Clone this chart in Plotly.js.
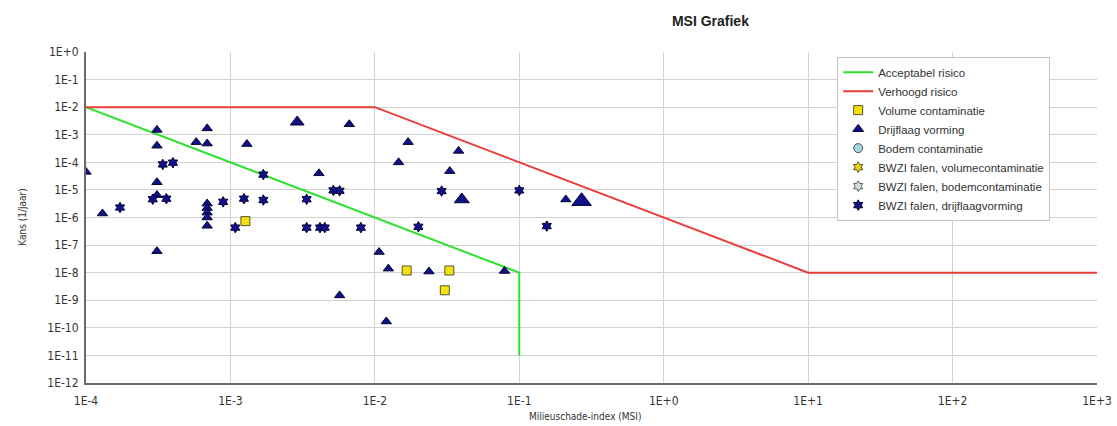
<!DOCTYPE html>
<html>
<head>
<meta charset="utf-8">
<script src="https://cdn.plot.ly/plotly-3.0.1.min.js"></script>
<style>
  html, body { margin: 0; padding: 0; background: #ffffff; }
  #chart { width: 1117px; height: 426px; }
</style>
</head>
<body>
<div id="chart"></div>
<script>
// ---------- DATA ----------
var xTickVals = [1e-4, 1e-3, 1e-2, 1e-1, 1e0, 1e1, 1e2, 1e3];
var xTickText = ["1E-4", "1E-3", "1E-2", "1E-1", "1E+0", "1E+1", "1E+2", "1E+3"];
var yTickVals = [1e-12, 1e-11, 1e-10, 1e-9, 1e-8, 1e-7, 1e-6, 1e-5, 1e-4, 1e-3, 1e-2, 1e-1, 1e0];
var yTickText = ["1E-12", "1E-11", "1E-10", "1E-9", "1E-8", "1E-7", "1E-6", "1E-5", "1E-4", "1E-3", "1E-2", "1E-1", "1E+0"];

// Acceptabel risico (green boundary)
var acceptX = [1e-4, 1e-1, 1e-1];
var acceptY = [1e-2, 1e-8, 1e-11];

// Verhoogd risico (red boundary)
var verhoogdX = [1e-4, 1e-2, 1e1, 1e3];
var verhoogdY = [1e-2, 1e-2, 1e-8, 1e-8];

// Volume contaminatie (yellow squares)
var volumeX = [1.27e-3, 1.66e-2, 3.28e-2, 3.05e-2];
var volumeY = [7.4e-7, 1.2e-8, 1.2e-8, 2.3e-9];

// Drijflaag vorming (triangles)
var drijfX = [1.0e-4, 1.3e-4, 3.1e-4, 3.1e-4, 3.1e-4, 3.1e-4, 3.1e-4, 5.8e-4,
              6.9e-4, 6.9e-4, 6.9e-4, 6.9e-4, 6.9e-4, 6.9e-4, 6.9e-4, 1.3e-3,
              2.9e-3, 4.1e-3, 5.7e-3, 6.65e-3, 1.07e-2, 1.24e-2, 1.2e-2, 1.46e-2,
              1.7e-2, 2.37e-2, 3.3e-2, 3.8e-2, 4.0e-2, 7.9e-2, 0.21, 0.27];
var drijfY = [4.5e-5, 1.4e-6, 1.5e-3, 4.0e-4, 1.9e-5, 6.5e-6, 6.0e-8, 5.4e-4,
              1.7e-3, 4.8e-4, 3.2e-6, 2.2e-6, 1.5e-6, 1.0e-6, 5.0e-7, 4.6e-4,
              2.9e-3, 4.0e-5, 1.5e-9, 2.4e-3, 5.6e-8, 1.4e-8, 1.7e-10, 1.0e-4,
              5.4e-4, 1.1e-8, 4.8e-5, 2.6e-4, 4.5e-6, 1.15e-8, 4.5e-6, 3.9e-6];

// Bodem contaminatie, BWZI volume / bodem (no points in this chart)
var bodemX = [null], bodemY = [null];
var bwziVolumeX = [null], bwziVolumeY = [null];
var bwziBodemX = [null], bwziBodemY = [null];

// BWZI falen, drijflaagvorming (stars)
var bwziDrijfX = [1.72e-4, 2.9e-4, 3.6e-4, 3.4e-4, 4.0e-4, 8.9e-4, 1.08e-3, 1.24e-3,
                  1.69e-3, 1.69e-3, 3.37e-3, 3.37e-3, 4.17e-3, 4.5e-3, 5.16e-3, 5.7e-3,
                  8.0e-3, 2.0e-2, 2.9e-2, 0.1, 0.155];
var bwziDrijfY = [2.3e-6, 4.6e-6, 4.8e-6, 8.4e-5, 9.7e-5, 3.7e-6, 4.3e-7, 4.8e-6,
                  3.6e-5, 4.3e-6, 4.6e-6, 4.3e-7, 4.3e-7, 4.3e-7, 9.6e-6, 9.3e-6,
                  4.3e-7, 4.6e-7, 9.1e-6, 9.6e-6, 4.9e-7];

// ---------- STYLE ----------
var navy = "#10108a";
var navyEdge = "#05052e";
// marker sizes for triangles: a few points are drawn larger in the original
var drijfSizes = drijfX.map(function (v, i) {
  if (i === 16) return 12;
  if (i === 28) return 13;
  if (i === 31) return 17;
  return 9;
});

var traces = [
  { x: acceptX, y: acceptY, name: "Acceptabel risico", mode: "lines",
    line: { color: "#2fe02f", width: 2 } },
  { x: verhoogdX, y: verhoogdY, name: "Verhoogd risico", mode: "lines",
    line: { color: "#ea3c38", width: 2 } },
  { x: volumeX, y: volumeY, name: "Volume contaminatie", mode: "markers",
    marker: { symbol: "square", size: 9, opacity: 1, color: "#f4e20c", line: { color: "#555533", width: 1 } } },
  { x: drijfX, y: drijfY, name: "Drijflaag vorming", mode: "markers",
    marker: { symbol: "triangle-up", size: drijfSizes, opacity: 1, sizemode: "diameter", color: navy, line: { color: navyEdge, width: 1 } } },
  { x: bodemX, y: bodemY, name: "Bodem contaminatie", mode: "markers",
    marker: { symbol: "circle", size: 9, opacity: 1, color: "#a9d4de", line: { color: "#445555", width: 1 } } },
  { x: bwziVolumeX, y: bwziVolumeY, name: "BWZI falen, volumecontaminatie", mode: "markers",
    marker: { symbol: "hexagram", size: 8, opacity: 1, color: "#e8d414", line: { color: "#5a5520", width: 1 } } },
  { x: bwziBodemX, y: bwziBodemY, name: "BWZI falen, bodemcontaminatie", mode: "markers",
    marker: { symbol: "hexagram", size: 8, opacity: 1, color: "#cfe0d6", line: { color: "#556060", width: 1 } } },
  { x: bwziDrijfX, y: bwziDrijfY, name: "BWZI falen, drijflaagvorming", mode: "markers",
    marker: { symbol: "hexagram", size: 8, opacity: 1, color: navy, line: { color: navyEdge, width: 1 } } }
];

var tickFont = { family: "Liberation Sans Narrow, DejaVu Sans Condensed, Arial Narrow, sans-serif", size: 12, color: "#333333" };

var layout = {
  width: 1117, height: 426,
  margin: { l: 86, r: 20, t: 52, b: 43 },
  paper_bgcolor: "#ffffff",
  plot_bgcolor: "#ffffff",
  title: {
    text: "<b>MSI Grafiek</b>",
    font: { family: "Liberation Sans, Arial, sans-serif", size: 14, color: "#222222" },
    x: 0.636, xref: "container", xanchor: "center",
    y: 0.951, yref: "container", yanchor: "middle"
  },
  xaxis: {
    type: "log", range: [-4, 3],
    tickvals: xTickVals, ticktext: xTickText,
    tickfont: tickFont, ticks: "", ticklabelstandoff: 6,
    showgrid: true, gridcolor: "#d2d2d2", gridwidth: 1,
    showline: true, linecolor: "#6a6a6a", linewidth: 1.5,
    zeroline: false, title: { text: "" }
  },
  yaxis: {
    type: "log", range: [-12, 0],
    tickvals: yTickVals, ticktext: yTickText,
    tickfont: tickFont, ticks: "", ticklabelstandoff: 3,
    showgrid: true, gridcolor: "#d2d2d2", gridwidth: 1,
    showline: true, linecolor: "#6a6a6a", linewidth: 2,
    zeroline: false, title: { text: "" }
  },
  showlegend: true,
  legend: {
    x: 0.743, y: 0.986, xanchor: "left", yanchor: "top",
    bgcolor: "#ffffff", bordercolor: "#c4c4c4", borderwidth: 1,
    font: { family: "Liberation Sans, Arial, sans-serif", size: 11.5, color: "#333333" },
    itemwidth: 30
  },
  annotations: [
    { text: "Kans (1/jaar)", xref: "paper", yref: "paper",
      x: -0.063, y: 0.5, xanchor: "center", yanchor: "middle",
      textangle: -90, showarrow: false,
      font: { family: "Liberation Sans Narrow, DejaVu Sans Condensed, sans-serif", size: 10, color: "#333333" } },
    { text: "Milieuschade-index (MSI)", xref: "paper", yref: "paper",
      x: 0.494, y: -0.102, xanchor: "center", yanchor: "middle",
      showarrow: false,
      font: { family: "Liberation Sans Narrow, DejaVu Sans Condensed, sans-serif", size: 10, color: "#333333" } }
  ]
};

Plotly.newPlot("chart", traces, layout, { displayModeBar: false, staticPlot: true });
</script>
</body>
</html>
